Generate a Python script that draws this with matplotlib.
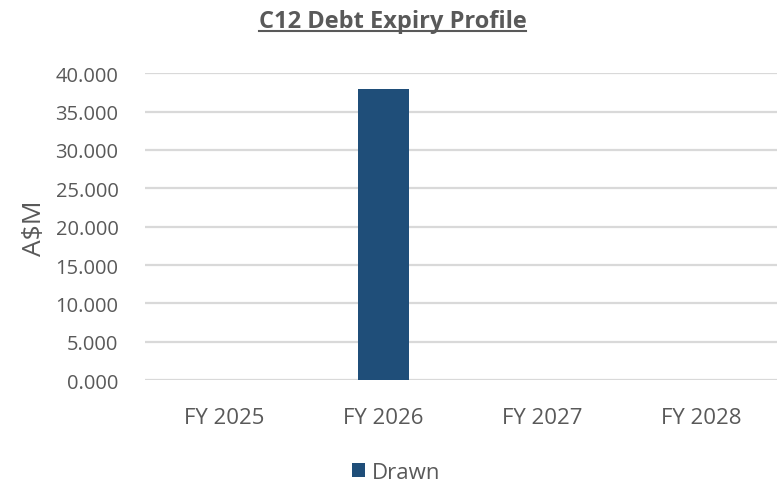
import matplotlib
matplotlib.use('Agg')
import matplotlib.pyplot as plt
from matplotlib.lines import Line2D
import numpy as np

categories = ['FY 2025', 'FY 2026', 'FY 2027', 'FY 2028']
drawn = [0.0, 37.9, 0.0, 0.0]
yticks = [0, 5, 10, 15, 20, 25, 30, 35, 40]

plt.rcParams['font.family'] = ['Open Sans', 'DejaVu Sans']
text_col = '#595959'

fig = plt.figure(figsize=(7.77, 4.85), dpi=100)
ax = fig.add_axes([0.1865, 0.214, 0.8185, 0.633])

x = np.arange(len(categories))
ax.bar(x, drawn, width=0.32, color='#1f4e79', label='Drawn', zorder=3)

ax.set_xlim(-0.5, len(categories) - 0.5)
ax.set_ylim(0, 40)
ax.set_yticks(yticks)
ax.set_yticklabels(['{:.3f}'.format(v) for v in yticks])
ax.set_xticks(x)
ax.set_xticklabels(categories)
ax.tick_params(axis='y', length=0, pad=19, labelsize=14.5, labelcolor=text_col)
ax.tick_params(axis='x', length=0, pad=19, labelsize=16, labelcolor=text_col)
ax.grid(axis='y', color='#d9d9d9', linewidth=1.6, zorder=0)
for s in ax.spines.values():
    s.set_visible(False)

ax.set_ylabel('A$M', fontsize=19, color=text_col, labelpad=6)

title = fig.text(0.505, 0.955, 'C12 Debt Expiry Profile', ha='center', va='center',
                 fontsize=17, fontweight='bold', color=text_col)

fig.legend(loc='lower center', bbox_to_anchor=(0.51, -0.026), frameon=False,
           fontsize=16, handlelength=0.6, handleheight=0.6, handletextpad=0.3,
           borderpad=0.1, labelcolor=text_col)

# underline the title
fig.canvas.draw()
bb = title.get_window_extent().transformed(fig.transFigure.inverted())
fig.add_artist(Line2D([bb.x0, bb.x1], [bb.y0 + 0.003, bb.y0 + 0.003],
                      transform=fig.transFigure, color=text_col, linewidth=1.5))

fig.savefig('out.png', dpi=100)
